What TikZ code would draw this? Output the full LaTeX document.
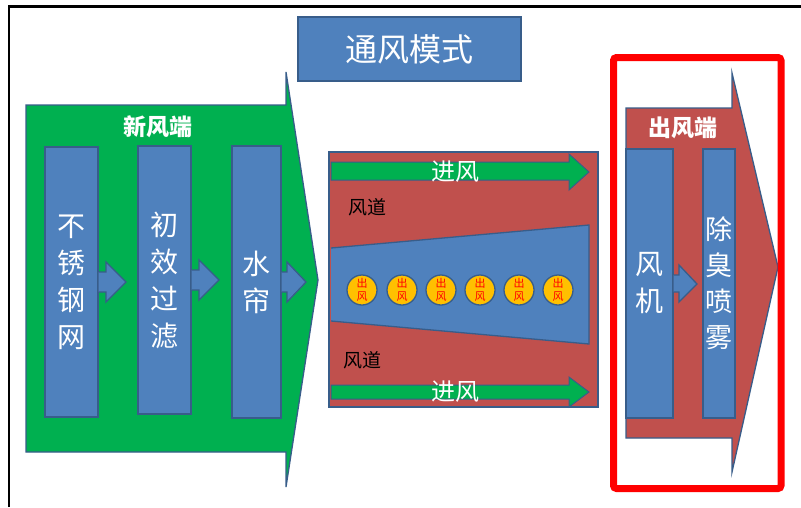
\documentclass[tikz,border=0pt]{standalone}
\usepackage{fontspec}
\newfontfamily\cjk{Noto Sans CJK SC}
\usetikzlibrary{calc}
\definecolor{pblue}{HTML}{4F81BD}
\definecolor{pedge}{HTML}{385D8A}
\definecolor{pgreen}{HTML}{00B050}
\definecolor{pred}{HTML}{C0504D}
\definecolor{pyellow}{HTML}{FFC000}
\begin{document}
\begin{tikzpicture}[x=1pt,y=-1pt,
  shapeln/.style={draw=pedge,line width=1.3pt,line join=miter},
  bbox/.style={shapeln,fill=pblue,text=white,inner sep=0pt,align=center,
    font=\cjk\fontsize{28}{37}\selectfont},
  head/.style={text=white,font=\cjk\bfseries\fontsize{23}{26}\selectfont},
  flowtxt/.style={text=white,font=\cjk\fontsize{24}{28}\selectfont},
  ducttxt/.style={text=black,font=\cjk\fontsize{19}{22}\selectfont},
  outlet/.style={circle,minimum size=30pt,inner sep=0pt,fill=pyellow,draw=pedge,
    line width=1.3pt,text=red,align=center,font=\cjk\fontsize{11}{13}\selectfont}]
\useasboundingbox (0,0) rectangle (801,507);
\fill[white] (0,0) rectangle (801,507);
\draw[line width=2.2pt] (9,507) -- (9,6.5) -- (801,6.5);

% title
\node[bbox,minimum width=223pt,minimum height=64pt,
  font=\cjk\fontsize{32}{38}\selectfont] (title) at (409.5,49) {通风模式};

% fresh air end
\draw[shapeln,fill=pgreen] (26,105) -- (286,105) -- (286,72) -- (318,280)
  -- (286,487) -- (286,452) -- (26,452) -- cycle;
\node[head] (inlet) at (158,127) {新风端};
\node[bbox,minimum width=53pt,minimum height=270pt] (b1) at (71.5,282) {不\\锈\\钢\\网};
\node[bbox,minimum width=53pt,minimum height=268pt] (b2) at (164.5,280) {初\\效\\过\\滤};
\node[bbox,minimum width=49pt,minimum height=272pt] (b3) at (256.5,282) {水\\帘};
\fill[pblue] (b1.east |- 0,272) -- (106,272) -- (106,262) -- (126,282) -- (106,302) -- (106,292) -- (b1.east |- 0,292) -- cycle;
\draw[shapeln] (b1.east |- 0,272) -- (106,272) -- (106,262) -- (126,282) -- (106,302) -- (106,292) -- (b1.east |- 0,292);
\fill[pblue] (b2.east |- 0,270) -- (199,270) -- (199,260) -- (219,280) -- (199,300) -- (199,290) -- (b2.east |- 0,290) -- cycle;
\draw[shapeln] (b2.east |- 0,270) -- (199,270) -- (199,260) -- (219,280) -- (199,300) -- (199,290) -- (b2.east |- 0,290);
\fill[pblue] (b3.east |- 0,272) -- (287,272) -- (287,262) -- (306,282) -- (287,302) -- (287,292) -- (b3.east |- 0,292) -- cycle;
\draw[shapeln] (b3.east |- 0,272) -- (287,272) -- (287,262) -- (306,282) -- (287,302) -- (287,292) -- (b3.east |- 0,292);

% duct
\node[shapeln,fill=pred,minimum width=269pt,minimum height=255pt,inner sep=0pt] (duct) at (463.5,279.5) {};
\fill[pblue] (331,248) -- (589,225) -- (589,344) -- (331,321) -- cycle;
\draw[shapeln] (331,248) -- (589,225) -- (589,344) -- (331,321);
\draw[draw=pedge,line width=1pt,fill=pgreen] (331,162) -- (569,162) -- (569,154) -- (589,172)
  -- (569,190) -- (569,180) -- (331,180) -- cycle;
\draw[draw=pedge,line width=1pt,fill=pgreen] (331,385) -- (569,385) -- (569,377) -- (589,392)
  -- (569,407) -- (569,399) -- (331,399) -- cycle;
\node[flowtxt] (in1) at (455,172) {进风};
\node[flowtxt] (in2) at (455,392) {进风};
\node[ducttxt] (d1) at (367,207) {风道};
\node[ducttxt] (d2) at (362,360) {风道};
\foreach \x [count=\i] in {362,402,441,480,519,558}
  \node[outlet] (o\i) at (\x,290) {出\\风};

% exhaust end
\draw[shapeln,fill=pred] (626,108) -- (732,108) -- (732,73) -- (778,267)
  -- (732,472) -- (732,438) -- (626,438) -- cycle;
\node[head] (outlet) at (683,128) {出风端};
\node[bbox,minimum width=47pt,minimum height=269pt] (f1) at (649.5,283.5) {风\\机};
\node[bbox,minimum width=32pt,minimum height=269pt,
  font=\cjk\fontsize{27}{36}\selectfont] (f2) at (719,283.5) {除\\臭\\喷\\雾};
\fill[pblue] (f1.east |- 0,275) -- (679,275) -- (679,265) -- (697,284) -- (679,302) -- (679,292) -- (f1.east |- 0,292) -- cycle;
\draw[shapeln] (f1.east |- 0,275) -- (679,275) -- (679,265) -- (697,284) -- (679,302) -- (679,292) -- (f1.east |- 0,292);

\node[draw=red,line width=7pt,rounded corners=3pt,minimum width=167.5pt,
  minimum height=431pt,inner sep=0pt] (frame) at (697.25,273) {};
\end{tikzpicture}
\end{document}
